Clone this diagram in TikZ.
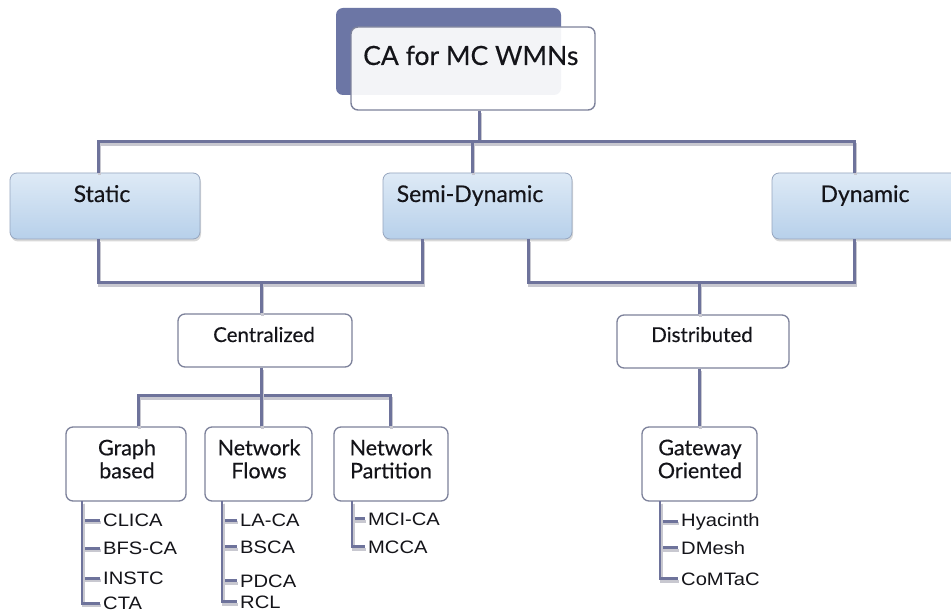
\documentclass[tikz,border=0pt]{standalone}
\usepackage{fontspec}
\newfontfamily\boxfont[FakeBold=0.35]{Lato}
\newfontfamily\leaffont[FakeStretch=1.12]{Liberation Sans}
\usetikzlibrary{shadows}
\definecolor{conncol}{RGB}{110,115,155}
\definecolor{connshadow}{RGB}{200,200,208}
\definecolor{boxborder}{RGB}{125,130,155}
\definecolor{blueborder}{RGB}{150,165,190}
\definecolor{bluetop}{RGB}{222,234,246}
\definecolor{bluebot}{RGB}{183,208,234}
\definecolor{darkback}{RGB}{108,118,165}
\definecolor{txt}{RGB}{20,20,25}
\begin{document}
\begin{tikzpicture}[x=1pt,y=-1pt,
  conn/.style={draw=conncol,line width=3pt,
    preaction={draw=connshadow,line width=3pt,transform canvas={shift={(1,2.5)}}}},
  leafconn/.style={conn,line width=2.8pt},
  bluebox/.style={rectangle,rounded corners=7pt,draw=blueborder,line width=0.8pt,
    top color=bluetop,bottom color=bluebot,
    drop shadow={shadow xshift=1pt,shadow yshift=-2.5pt,opacity=0.3},inner sep=0},
  whitebox/.style={rectangle,rounded corners=7pt,draw=boxborder,line width=1.3pt,fill=white,inner sep=0},
  lvlone/.style={font=\boxfont\fontsize{23}{26}\selectfont,text=txt,anchor=base,inner sep=0},
  lvltwo/.style={font=\boxfont\fontsize{20.5}{23}\selectfont,text=txt,anchor=base,inner sep=0},
  lvlthree/.style={font=\boxfont\fontsize{21.5}{23}\selectfont,text=txt,align=center,inner sep=0},
  leaf/.style={font=\leaffont\fontsize{18}{20}\selectfont,text=txt,anchor=base west,inner xsep=3pt,inner ysep=0}]
\useasboundingbox (0,0) rectangle (951,612);
\fill[white] (0,0) rectangle (951,612);

% top box
\node[rectangle,rounded corners=7pt,fill=darkback,minimum width=225pt,minimum height=87pt,inner sep=0] (back) at (448.5,51.5) {};
\node[rectangle,rounded corners=7pt,draw=boxborder,line width=1.4pt,fill=white,fill opacity=0.92,draw opacity=1,minimum width=244pt,minimum height=83pt,inner sep=0] (top) at (473,68.5) {};
\node[font=\boxfont\fontsize{26.5}{30}\selectfont,text=txt,anchor=base west,inner sep=0] (toptext) at (363,65) {CA for MC WMNs};

% level one
\node[bluebox,minimum width=190pt,minimum height=66pt] (static) at (105,206) {};
\node[bluebox,minimum width=189pt,minimum height=66pt] (semi) at (477.5,206) {};
\node[bluebox,minimum width=190pt,minimum height=66pt] (dyn) at (867,206) {};
\node[lvlone] (static-t) at (102,202) {Static};
\node[lvlone] (semi-t) at (470,202) {Semi-Dynamic};
\node[lvlone] (dyn-t) at (865,202) {Dynamic};

% level two
\node[whitebox,minimum width=174pt,minimum height=53pt] (cen) at (265,340.5) {};
\node[whitebox,minimum width=172pt,minimum height=53pt] (dis) at (703,341.5) {};
\node[lvltwo] (cen-t) at (264,342) {Centralized};
\node[lvltwo] (dis-t) at (702,342) {Distributed};

% level three
\node[whitebox,minimum width=120pt,minimum height=74pt] (graph) at (126,464) {};
\node[whitebox,minimum width=107pt,minimum height=74pt] (flows) at (258.5,464) {};
\node[whitebox,minimum width=114pt,minimum height=74pt] (part) at (391,464) {};
\node[whitebox,minimum width=115pt,minimum height=74pt] (gate) at (699.5,464) {};
\node[lvlthree] (graph-t) at (127,459) {Graph\\based};
\node[lvlthree] (flows-t) at (259,459) {Network\\Flows};
\node[lvlthree] (part-t) at (391,459) {Network\\Partition};
\node[lvlthree] (gate-t) at (700,459) {Gateway\\Oriented};

% connector points
\coordinate (top-bot) at ([xshift=6pt]top.south);
\coordinate (bar1) at (479,142);
\coordinate (st-top) at ([xshift=-7pt]static.north);
\coordinate (sd-top) at ([xshift=-5.5pt]semi.north);
\coordinate (dy-top) at ([xshift=-13pt]dyn.north);
\coordinate (st-bot) at ([xshift=-7pt]static.south);
\coordinate (sd-botL) at ([xshift=-55.5pt]semi.south);
\coordinate (sd-botR) at ([xshift=50.5pt]semi.south);
\coordinate (dy-bot) at ([xshift=-13pt]dyn.south);
\coordinate (cen-top) at ([xshift=-4pt]cen.north);
\coordinate (dis-top) at ([xshift=-4pt]dis.north);
\coordinate (bar2) at (261,283);
\coordinate (bar3) at (699,283);
\coordinate (cen-bot) at ([xshift=-4pt]cen.south);
\coordinate (dis-bot) at ([xshift=-4pt]dis.south);
\coordinate (bar4) at (261,396);
\coordinate (gr-top) at ([xshift=12pt]graph.north);
\coordinate (fl-top) at ([xshift=2.5pt]flows.north);
\coordinate (pa-top) at ([xshift=-1pt]part.north);
\coordinate (ga-top) at ([xshift=-0.5pt]gate.north);

\draw[conn] (top-bot) -- (bar1);
\draw[conn] (st-top) |- (bar1) -| (dy-top);
\draw[conn] (sd-top) -- (sd-top |- bar1);
\draw[conn] (st-bot) |- (bar2) -| (sd-botL);
\draw[conn] (bar2) -- (cen-top);
\draw[conn] (sd-botR) |- (bar3) -| (dy-bot);
\draw[conn] (bar3) -- (dis-top);
\draw[conn] (gr-top) |- (bar4) -| (pa-top);
\draw[conn] (cen-bot) -- (fl-top);
\draw[conn] (dis-bot) -- (ga-top);

% leaves
\node[leaf] (clica) at (100,526.5) {CLICA};
\node[leaf] (bfs) at (100,554.5) {BFS-CA};
\node[leaf] (instc) at (100,584.5) {INSTC};
\node[leaf] (cta) at (100,609.5) {CTA};
\node[leaf] (laca) at (237,526.5) {LA-CA};
\node[leaf] (bsca) at (237,553) {BSCA};
\node[leaf] (pdca) at (237,587) {PDCA};
\node[leaf] (rcl) at (237,608) {RCL};
\node[leaf] (mcica) at (365,525) {MCI-CA};
\node[leaf] (mcca) at (365,553) {MCCA};
\node[leaf] (hya) at (678,526) {Hyacinth};
\node[leaf] (dmesh) at (678,554) {DMesh};
\node[leaf] (comtac) at (678,585) {CoMTaC};

\coordinate (gr-stem) at (82,501);
\coordinate (fl-stem) at (222,501);
\coordinate (pa-stem) at (352,501);
\coordinate (ga-stem) at (660,501);
\draw[leafconn] (gr-stem) |- (clica.west);
\draw[leafconn] (gr-stem) |- (bfs.west);
\draw[leafconn] (gr-stem) |- (instc.west);
\draw[leafconn] (gr-stem) |- (cta.west);
\draw[leafconn] (fl-stem) |- (laca.west);
\draw[leafconn] (fl-stem) |- (bsca.west);
\draw[leafconn] (fl-stem) |- (pdca.west);
\draw[leafconn] (fl-stem) |- (rcl.west);
\draw[leafconn] (pa-stem) |- (mcica.west);
\draw[leafconn] (pa-stem) |- (mcca.west);
\draw[leafconn] (ga-stem) |- (hya.west);
\draw[leafconn] (ga-stem) |- (dmesh.west);
\draw[leafconn] (ga-stem) |- (comtac.west);
\end{tikzpicture}
\end{document}
